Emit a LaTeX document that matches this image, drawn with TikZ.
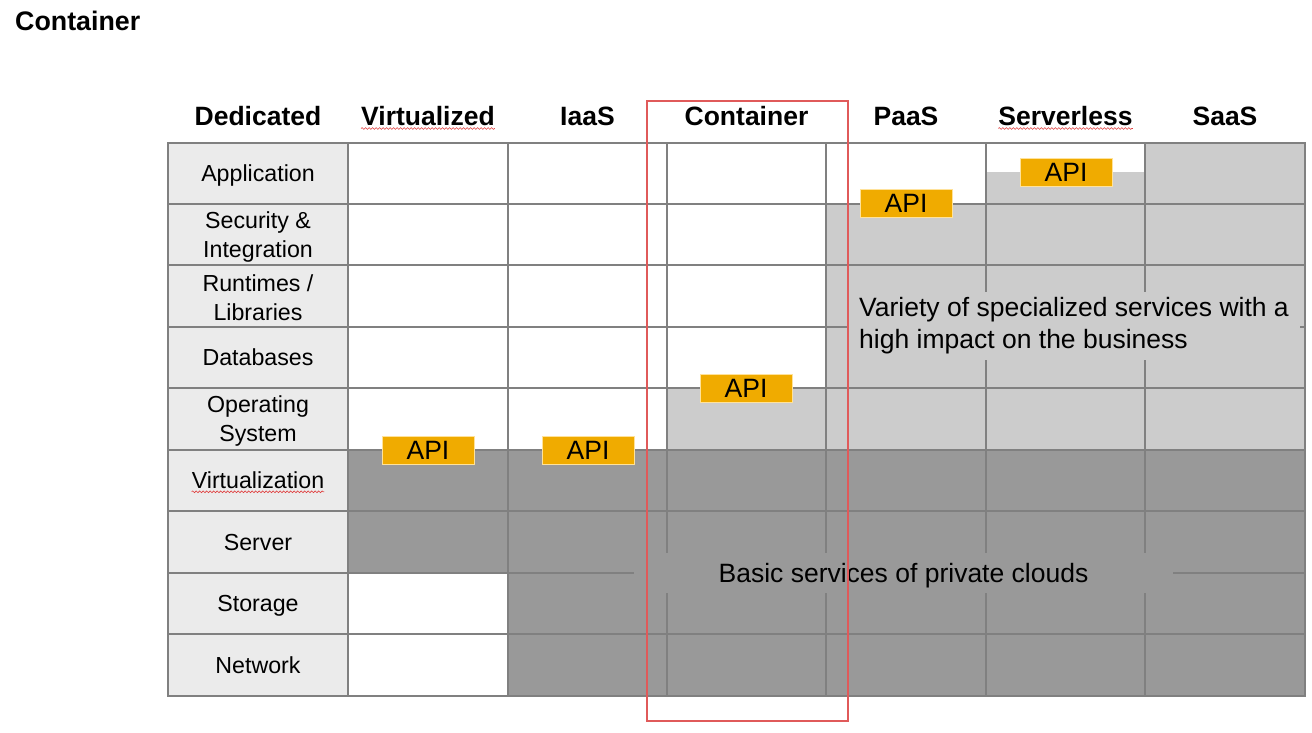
\documentclass[tikz,border=0pt]{standalone}
\usepackage{fontspec}
\setmainfont{Liberation Sans}
\usetikzlibrary{decorations.pathmorphing}

\definecolor{gridline}{HTML}{808080}
\definecolor{labelfill}{HTML}{EBEBEB}
\definecolor{lightfill}{HTML}{CCCCCC}
\definecolor{darkfill}{HTML}{999999}
\definecolor{apifill}{HTML}{F0AB00}
\definecolor{apiedge}{HTML}{FFE29A}
\definecolor{framered}{HTML}{E05A5A}
\definecolor{spellred}{HTML}{E03C3C}

\begin{document}
\begin{tikzpicture}[x=1pt,y=-1pt,
  bigfont/.style={font=\fontsize{26.5pt}{32pt}\selectfont},
  header/.style={font=\fontsize{26.5pt}{32pt}\selectfont\bfseries,
    text height=19pt, text depth=0pt, inner sep=0pt},
  rowlabel/.style={font=\fontsize{23.2pt}{29pt}\selectfont, align=center, inner sep=0pt},
  onelabel/.style={rowlabel, text height=16.6pt, text depth=0pt},
  apibox/.style={bigfont, fill=apifill, draw=apiedge, line width=0.8pt,
    minimum width=92pt, minimum height=28pt, inner sep=0pt,
    text height=19pt, text depth=0pt},
  grid/.style={draw=gridline, line width=1.1pt},
  squig/.style={draw=spellred, line width=0.6pt,
    decorate, decoration={snake, amplitude=0.9pt, segment length=3.5pt}},
  frame/.style={draw=framered, line width=2pt}
]
\useasboundingbox (0,0) rectangle (1312,732);

% title
\node[header, font=\fontsize{26.8pt}{32pt}\selectfont\bfseries, anchor=west] (title) at (15,20.5) {Container};

% cell fills
\fill[labelfill] (168,143) rectangle (348,696);
\fill[darkfill] (348,450) rectangle (508,573);
\fill[darkfill] (508,450) rectangle (1305,696);
\fill[lightfill] (667,388) rectangle (826,450);
\fill[lightfill] (826,204) rectangle (986,450);
\fill[lightfill] (986,172) rectangle (1145,450);
\fill[lightfill] (1145,143) rectangle (1305,450);

% table grid
\foreach \x in {348,508,667,826,986,1145}
  \draw[grid] (\x,143) -- (\x,696);
\foreach \y in {204,265,327,388,450,511,573,634}
  \draw[grid] (168,\y) -- (1305,\y);
\draw[grid] (168,143) rectangle (1305,696);

% column headers
\node[header] (hDed)  at (258,116)    {Dedicated};
\node[header] (hVirt) at (428,116)    {Virtualized};
\node[header] (hIaas) at (587.5,116)  {IaaS};
\node[header] (hCont) at (746.5,116)  {Container};
\node[header] (hPaas) at (906,116)    {PaaS};
\node[header] (hSrvl) at (1065.5,116) {Serverless};
\node[header] (hSaas) at (1225,116)   {SaaS};

% row labels
\node[onelabel] (rApp)  at (258,173.5) {Application};
\node[rowlabel] (rSec)  at (258,236.5) {Security \&\\Integration};
\node[rowlabel] (rRun)  at (258,298)   {Runtimes /\\Libraries};
\node[onelabel] (rDb)   at (258,357.5) {Databases};
\node[rowlabel] (rOs)   at (258,421)   {Operating\\System};
\node[onelabel] (rVirt) at (258,480.5) {Virtualization};
\node[onelabel] (rSrv)  at (258,542)   {Server};
\node[onelabel] (rSto)  at (258,603.5) {Storage};
\node[onelabel] (rNet)  at (258,665)   {Network};

% spell-check underlines
\draw[squig] ([yshift=-3pt]hVirt.base west) -- ([yshift=-3pt]hVirt.base east);
\draw[squig] ([yshift=-3pt]hSrvl.base west) -- ([yshift=-3pt]hSrvl.base east);
\draw[squig] ([yshift=-3pt]rVirt.base west) -- ([yshift=-3pt]rVirt.base east);

% area captions
\node[bigfont, fill=lightfill, align=left, inner sep=0pt,
  minimum width=452pt, minimum height=68pt] (variety) at (1074,326)
  {Variety of specialized services with a\\high impact on the business};
\node[bigfont, fill=darkfill, inner sep=0pt, text height=19pt, text depth=0pt,
  minimum width=539pt, minimum height=40pt] (basic) at (903.5,573)
  {Basic services of private clouds};

% API markers
\node[apibox] (apiVirt) at (428,450)  {API};
\node[apibox] (apiIaas) at (588,450)  {API};
\node[apibox] (apiCont) at (746,388)  {API};
\node[apibox] (apiPaas) at (906,203)  {API};
\node[apibox] (apiSrvl) at (1066,172) {API};

% highlight around the container column
\draw[frame] (647,101) rectangle (848,721);
\end{tikzpicture}
\end{document}
